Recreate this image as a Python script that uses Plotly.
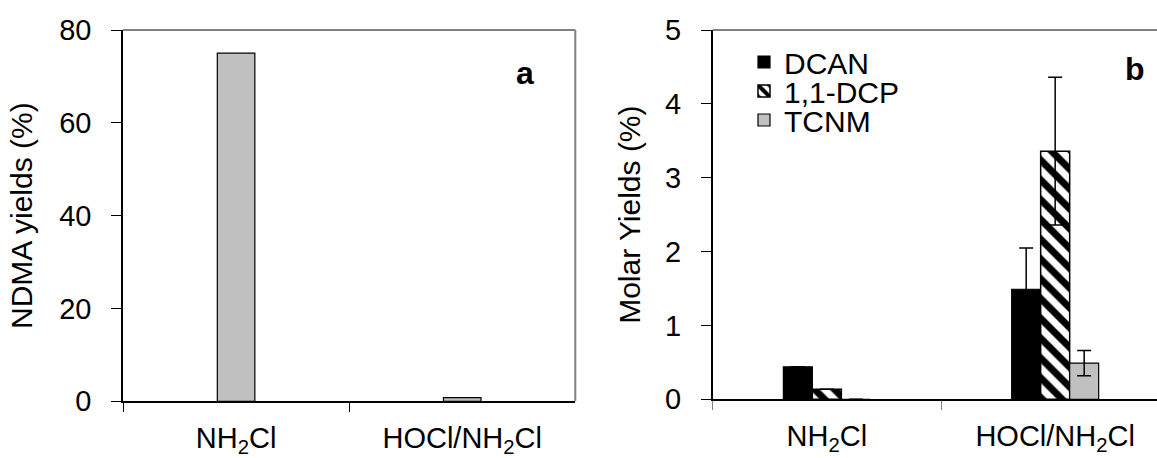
import plotly.graph_objects as go

categories = ["NH<sub>2</sub>Cl", "HOCl/NH<sub>2</sub>Cl"]
ndma_yield = [75.0, 0.8]

dcan = [0.44, 1.49]
dcan_err = [None, 0.56]
dcp = [0.135, 3.36]
dcp_err = [None, 1.0]
tcnm = [0.0, 0.49]
tcnm_err = [None, 0.17]

a_ticks = [0, 20, 40, 60, 80]
b_ticks = [0, 1, 2, 3, 4, 5]

W, H = 1157, 458
FONT = "Liberation Sans, Arial, sans-serif"

def px_x(p):
    return p / W

def px_y(p):
    return 1 - p / H

fig = go.Figure()

# Panel a
fig.add_trace(go.Bar(
    x=categories, y=ndma_yield, xaxis="x", yaxis="y", width=0.166,
    marker=dict(color="#C0C0C0", line=dict(color="black", width=1.2)),
    showlegend=False, name="NDMA"))

# Panel b
bw = 0.127
err_style = dict(type="data", color="black", thickness=1.5, width=7, visible=True)
fig.add_trace(go.Bar(
    x=categories, y=dcan, xaxis="x2", yaxis="y2", width=bw, offset=-1.5 * bw,
    marker=dict(color="black", line=dict(color="black", width=1.2)),
    error_y=dict(array=dcan_err, **err_style), name="DCAN", legend="legend"))
fig.add_trace(go.Bar(
    x=categories, y=dcp, xaxis="x2", yaxis="y2", width=bw, offset=-0.5 * bw,
    marker=dict(color="white", line=dict(color="black", width=1.5),
                pattern=dict(shape="\\", fgcolor="black", bgcolor="white",
                             size=14, solidity=0.5)),
    error_y=dict(array=dcp_err, **err_style), name="1,1-DCP", legend="legend2"))
fig.add_trace(go.Bar(
    x=categories, y=tcnm, xaxis="x2", yaxis="y2", width=bw, offset=0.5 * bw,
    marker=dict(color="#C0C0C0", line=dict(color="black", width=1.2)),
    error_y=dict(array=tcnm_err, **err_style), name="TCNM", legend="legend3"))

tickfont = dict(family=FONT, size=29, color="black")
titlefont = dict(family=FONT, size=30, color="black")
legfont = dict(family=FONT, size=30, color="black")

def leg(ycenter):
    return dict(x=px_x(744), y=px_y(ycenter), xanchor="left", yanchor="middle",
                bgcolor="rgba(0,0,0,0)", font=legfont, itemwidth=30,
                borderwidth=0)

fig.update_layout(
    template="none",
    width=W, height=H,
    autosize=False,
    margin=dict(l=0, r=0, t=0, b=0, autoexpand=False),
    paper_bgcolor="white", plot_bgcolor="white",
    barmode="overlay",
    font=dict(family=FONT, color="black"),
    showlegend=True,
    xaxis=dict(domain=[px_x(123), px_x(575.3)], range=[-0.5, 1.5],
               type="category", tickson="boundaries", ticks="outside",
               ticklen=9, tickwidth=1.2, tickcolor="black",
               showline=True, linecolor="black", linewidth=1.5,
               showgrid=False, zeroline=False, tickfont=tickfont,
               ticklabelstandoff=10, anchor="y", automargin=False),
    yaxis=dict(domain=[px_y(401.3), px_y(30)], range=[0, 80],
               tickvals=a_ticks, ticks="outside", ticklen=10, tickwidth=1.2,
               tickcolor="black", showline=True, linecolor="black",
               linewidth=1.5, showgrid=False, zeroline=False,
               tickfont=tickfont, ticklabelstandoff=14,
               title=dict(text="NDMA yields (%)", font=titlefont, standoff=18),
               anchor="x", automargin=False),
    xaxis2=dict(domain=[px_x(712.7), 1.0], range=[-0.5, 1.446],
                type="category", tickson="boundaries", ticks="outside",
                ticklen=9, tickwidth=1.2, tickcolor="#808080",
                showline=True, linecolor="black", linewidth=1.5,
                showgrid=False, zeroline=False, tickfont=tickfont,
                ticklabelstandoff=10, anchor="y2", automargin=False),
    yaxis2=dict(domain=[px_y(399.3), px_y(30)], range=[0, 5],
                tickvals=b_ticks, ticks="outside", ticklen=10, tickwidth=1.2,
                tickcolor="black", showline=True, linecolor="black",
                linewidth=1.5, showgrid=False, zeroline=False,
                tickfont=tickfont, ticklabelstandoff=14,
                title=dict(text="Molar Yields (%)", font=titlefont, standoff=16),
                anchor="x2", automargin=False),
    legend=leg(62),
    legend2=leg(91),
    legend3=leg(120),
    shapes=[
        dict(type="line", xref="x domain", yref="y domain", x0=0, x1=1, y0=1, y1=1,
             line=dict(color="#808080", width=2)),
        dict(type="line", xref="x domain", yref="y domain", x0=1, x1=1, y0=0, y1=1,
             line=dict(color="#808080", width=2)),
        dict(type="line", xref="x2 domain", yref="y2 domain", x0=0, x1=1, y0=1, y1=1,
             line=dict(color="#808080", width=2)),
    ],
    annotations=[
        dict(text="<b>a</b>", x=px_x(525), y=px_y(73), xref="paper", yref="paper",
             xanchor="center", yanchor="middle", showarrow=False,
             font=dict(family=FONT, size=32, color="black")),
        dict(text="<b>b</b>", x=px_x(1135), y=px_y(69), xref="paper", yref="paper",
             xanchor="center", yanchor="middle", showarrow=False,
             font=dict(family=FONT, size=32, color="black")),
    ],
)

fig.write_html("out.html", config={"displayModeBar": False},
               post_script="document.body.style.margin='0';document.body.style.padding='0';")
